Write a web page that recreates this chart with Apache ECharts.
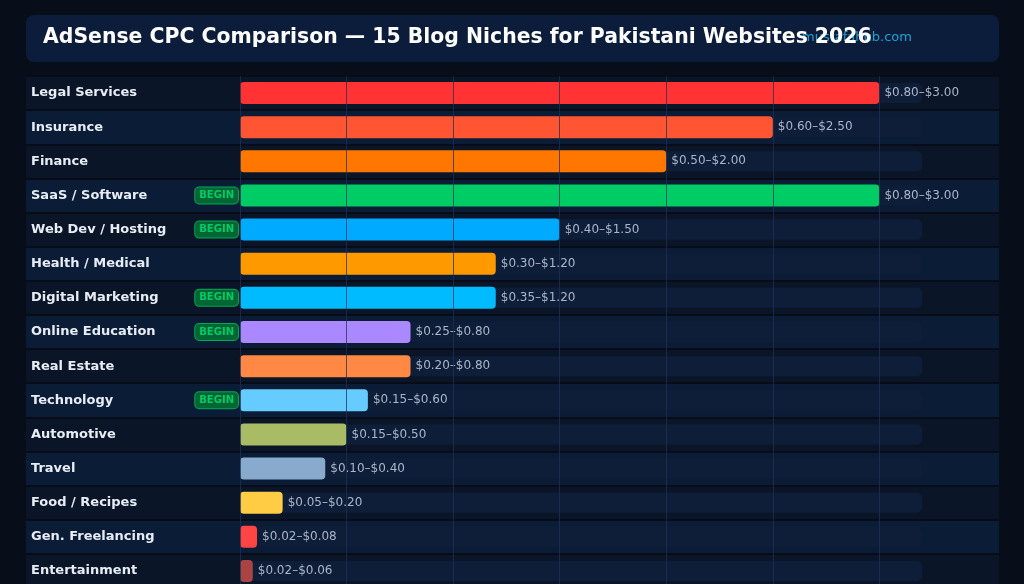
<!DOCTYPE html>
<html>
<head>
<meta charset="utf-8">
<script src="https://cdn.jsdelivr.net/npm/echarts@6/dist/echarts.min.js"></script>
<style>
  html, body { margin: 0; padding: 0; background: #080d1a; overflow: hidden; }
  #chart { width: 1024px; height: 592px; }
</style>
</head>
<body>
<div id="chart"></div>
<script>
// niches, top to bottom
var niches = [
  "Legal Services", "Insurance", "Finance", "SaaS / Software", "Web Dev / Hosting",
  "Health / Medical", "Digital Marketing", "Online Education", "Real Estate", "Technology",
  "Automotive", "Travel", "Food / Recipes", "Gen. Freelancing", "Entertainment"
];
// CPC range in USD
var cpcLow = [0.80, 0.60, 0.50, 0.80, 0.40, 0.30, 0.35, 0.25, 0.20, 0.15, 0.15, 0.10, 0.05, 0.02, 0.02];
var cpcHigh = [3.00, 2.50, 2.00, 3.00, 1.50, 1.20, 1.20, 0.80, 0.80, 0.60, 0.50, 0.40, 0.20, 0.08, 0.06];
var barColors = [
  "#ff3333", "#ff5533", "#ff7700", "#00cc66", "#00aaff",
  "#ff9900", "#00bbff", "#aa88ff", "#ff8844", "#66ccff",
  "#aabb66", "#88aacc", "#ffcc44", "#ff4444", "#aa4444"
];
var beginnerNiches = ["SaaS / Software", "Web Dev / Hosting", "Digital Marketing", "Online Education", "Technology"];
var axisMax = 3.2;

var font = "DejaVu Sans";

var chart = echarts.init(document.getElementById("chart"));

var option = {
  backgroundColor: "#080d1a",
  animation: false,
  title: {
    text: "AdSense CPC Comparison \u2014 15 Blog Niches for Pakistani Websites 2026",
    left: 43,
    top: 28,
    padding: 0,
    z: 6,
    textStyle: { color: "#ffffff", fontSize: 20.4, fontWeight: "bold", fontFamily: font }
  },
  graphic: [
    {
      type: "rect",
      z: 0,
      shape: { x: 26, y: 15, width: 973, height: 47, r: 8 },
      style: { fill: "#0b1d3b" }
    },
    {
      type: "text",
      z: 1,
      left: 802,
      top: 31,
      style: { text: "mustafahub.com", fill: "#1aa3d6", font: "13px DejaVu Sans" }
    }
  ],
  grid: [
    { left: 240, right: 102, top: 76, height: 512 },
    { left: 26, right: 25, top: 76, height: 512 }
  ],
  xAxis: [
    {
      gridIndex: 0,
      type: "value",
      min: 0,
      max: axisMax,
      interval: 0.5,
      z: 5,
      axisLabel: { show: false },
      axisLine: { show: false },
      axisTick: { show: false },
      splitLine: {
        show: true,
        showMaxLine: false,
        lineStyle: { color: "rgba(30,50,85,0.75)", width: 1 }
      }
    },
    {
      gridIndex: 1,
      type: "value",
      show: false
    }
  ],
  yAxis: [
    {
      gridIndex: 0,
      type: "category",
      inverse: true,
      data: niches,
      axisLine: { show: false },
      axisTick: { show: false },
      splitLine: { show: false },
      axisLabel: {
        align: "left",
        margin: 209,
        color: "#e8edf5",
        fontSize: 13,
        fontWeight: "bold",
        fontFamily: font
      }
    },
    {
      gridIndex: 0,
      type: "category",
      inverse: true,
      position: "left",
      data: niches,
      axisLine: { show: false },
      axisTick: { show: false },
      splitLine: { show: false },
      axisLabel: {
        align: "right",
        margin: 2,
        formatter: function (name) {
          return beginnerNiches.indexOf(name) >= 0 ? "{b|BEGIN}" : "";
        },
        rich: {
          b: {
            color: "#00cc66",
            fontSize: 10,
            fontWeight: "bold",
            fontFamily: font,
            backgroundColor: "#006633",
            borderColor: "#00a855",
            borderWidth: 1,
            borderRadius: 4,
            padding: [3, 4, 3, 4],
            lineHeight: 12
          }
        }
      }
    },
    {
      gridIndex: 1,
      type: "category",
      inverse: true,
      data: niches,
      z: 0,
      axisLine: { show: false },
      axisTick: { show: false },
      axisLabel: { show: false },
      splitLine: { show: true, lineStyle: { color: "#070c18", width: 2 } },
      splitArea: { show: true, areaStyle: { color: ["#0a1628", "#0b1c37"] } }
    }
  ],
  series: [
    {
      name: "track",
      type: "bar",
      xAxisIndex: 0,
      yAxisIndex: 1,
      z: 1,
      barWidth: 20,
      silent: true,
      data: niches.map(function () { return axisMax; }),
      itemStyle: { color: "#0f1e38", borderRadius: 5 }
    },
    {
      name: "CPC",
      type: "bar",
      xAxisIndex: 0,
      yAxisIndex: 0,
      z: 2,
      barWidth: 22,
      data: cpcHigh.map(function (v, i) {
        return { value: v, itemStyle: { color: barColors[i] } };
      }),
      itemStyle: { borderRadius: 4 },
      label: {
        show: true,
        position: "right",
        distance: 5,
        color: "#a9b6c9",
        fontSize: 12,
        fontFamily: font,
        formatter: function (p) {
          return "$" + cpcLow[p.dataIndex].toFixed(2) + "\u2013$" + cpcHigh[p.dataIndex].toFixed(2);
        }
      }
    }
  ]
};

chart.setOption(option);
</script>
</body>
</html>
